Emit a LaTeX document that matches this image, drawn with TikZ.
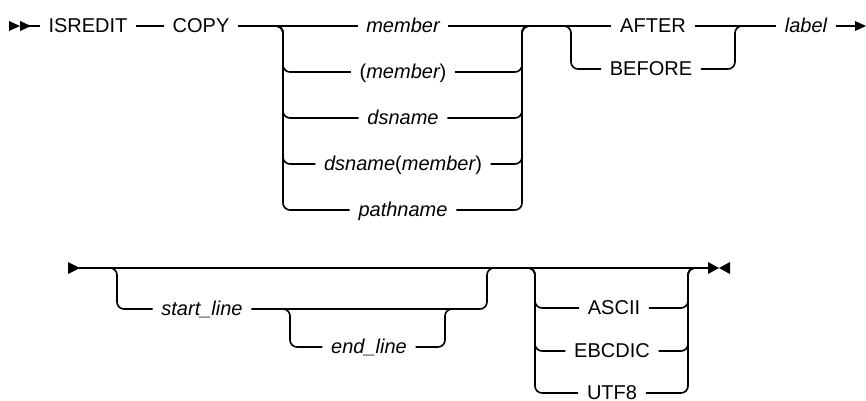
\documentclass[tikz,border=0pt]{standalone}
\usepackage{fontspec}
\setmainfont{Liberation Sans}
\begin{document}
\begin{tikzpicture}[x=1pt,y=-1pt, line width=1.6pt, rounded corners=7pt,
  lbl/.style={inner xsep=8pt, inner ysep=0pt, text height=14pt, text depth=1pt, font=\fontsize{20}{24}\selectfont},
  kw/.style={lbl},
  var/.style={lbl, font=\fontsize{20}{24}\selectfont\itshape},
  tip/.style={sharp corners}]
\useasboundingbox (0,0) rectangle (866,400);
% ---------- row 1 ----------
\fill[tip] (9,21) -- (20,26) -- (9,31) -- cycle;
\fill[tip] (20,21) -- (31,26) -- (20,31) -- cycle;
\coordinate (s1) at (20,26);
\node[kw] (isredit) at (88,26) {ISREDIT};
\node[kw] (copy) at (201,26) {COPY};
\coordinate (b1l) at (283,26);
\coordinate (b1r) at (522,26);
\node[var] (m1) at (403,26) {member};
\node[var] (m2) at (403,72) {\upshape(\itshape member\upshape)};
\node[var] (m3) at (403,118) {dsname};
\node[var] (m4) at (403,164) {dsname\upshape(\itshape member\upshape)};
\node[var] (m5) at (403,210) {pathname};
\coordinate (b2l) at (571,26);
\coordinate (b2r) at (735,26);
\node[kw] (after) at (653,26) {AFTER};
\node[kw] (before) at (651,69) {BEFORE};
\node[var] (label) at (806,26) {label};
\coordinate (e1) at (855,26);
\fill[tip] (855,21) -- (866,26) -- (855,31) -- cycle;

\draw (s1) -- (isredit);
\draw (isredit) -- (copy);
\draw (copy) -- (m1);
\draw (m1) -- (after);
\draw (after) -- (label);
\draw (label) -- (e1);
\foreach \n in {m2,m3,m4,m5}{
  \draw ([xshift=-10pt]b1l) -- (b1l) |- (\n);
  \draw (\n) -| (b1r) -- ([xshift=10pt]b1r);
}
\draw ([xshift=-10pt]b2l) -- (b2l) |- (before);
\draw (before) -| (b2r) -- ([xshift=10pt]b2r);

% ---------- row 2 ----------
\fill[tip] (68,262) -- (80,268) -- (68,274) -- cycle;
\coordinate (s2) at (79,268);
\coordinate (e2) at (709,268);
\fill[tip] (708,262) -- (719,268) -- (708,274) -- cycle;
\fill[tip] (730,262) -- (719,268) -- (730,274) -- cycle;
\draw (s2) -- (e2);

\coordinate (al) at (117,268);
\coordinate (ar) at (487,268);
\coordinate (bl) at (290,309);
\coordinate (br) at (445,309);
\node[var] (sl) at (202,309) {start\_line};
\node[var] (el) at (369,347) {end\_line};
\draw ([xshift=-10pt]al) -- (al) |- (sl);
\draw (sl) -| (ar) -- ([xshift=10pt]ar);
\draw ([xshift=-10pt]bl) -- (bl) |- (el);
\draw (el) -| (br) -- ([xshift=10pt]br);

\coordinate (cl) at (535,268);
\coordinate (cr) at (688,268);
\node[kw] (ascii) at (614,308) {ASCII};
\node[kw] (ebcdic) at (612,351) {EBCDIC};
\node[kw] (utf) at (612,393) {UTF8};
\foreach \n in {ascii,ebcdic,utf}{
  \draw ([xshift=-10pt]cl) -- (cl) |- (\n);
  \draw (\n) -| (cr) -- ([xshift=10pt]cr);
}
\end{tikzpicture}
\end{document}
